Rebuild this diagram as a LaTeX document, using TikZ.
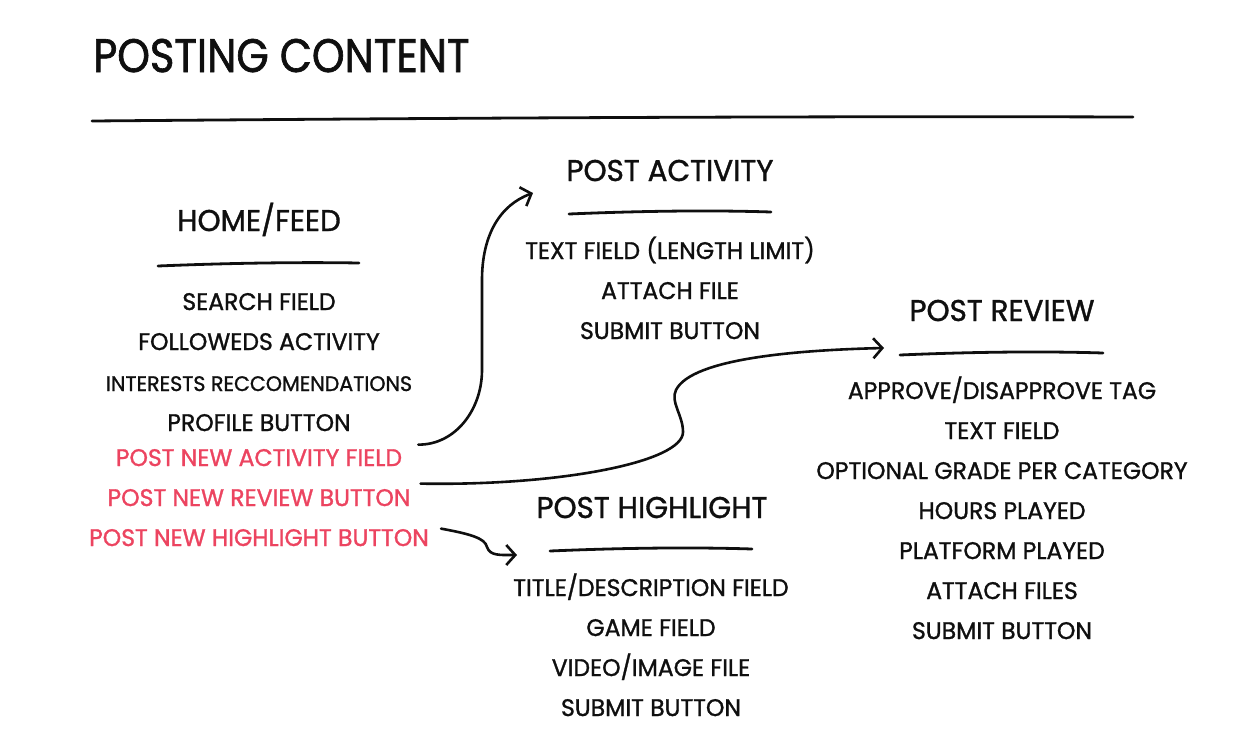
\documentclass[tikz,border=0pt]{standalone}
\usepackage{fontspec}
\usetikzlibrary{arrows.meta}
\newfontfamily\hand[FakeStretch=0.98, FakeBold=1.2]{Poppins}
\newfontfamily\handtitle[FakeStretch=0.885, FakeBold=1.4]{Poppins}
\definecolor{hred}{RGB}{236,68,96}
\definecolor{ink}{RGB}{15,15,15}
\tikzset{
  txt/.style={anchor=base, inner sep=0pt, font=\hand\fontsize{24}{28}\selectfont, text=ink},
  small/.style={txt, font=\hand\fontsize{21}{25}\selectfont},
  hdr/.style={anchor=base, inner sep=0pt, font=\hand\fontsize{30}{34}\selectfont, text=ink},
  redtxt/.style={txt, text=hred},
  rule/.style={draw=ink, line width=2.8pt, line cap=round},
  arr/.style={draw=ink, line width=2.6pt, line cap=round, line join=round,
    -{Straight Barb[length=9pt, width=20pt, line width=2.6pt]}}
}
\begin{document}
\begin{tikzpicture}[x=1pt, y=-1pt]
\useasboundingbox (0,0) rectangle (1237,745);
% title
\node[anchor=base west, inner sep=0pt, font=\handtitle\fontsize{47}{52}\selectfont, text=ink] (title) at (93,72) {POSTING CONTENT};
\draw[rule] (92,121) .. controls (450,118) and (800,116) .. (1133,117);
% home / feed
\node[hdr] (home) at (259,231) {HOME/FEED};
\draw[rule] (158,266) .. controls (230,263) and (300,262) .. (359,263);
\node[txt] (search) at (259,310) {SEARCH FIELD};
\node[txt] (follow) at (259,350) {FOLLOWEDS ACTIVITY};
\node[small] (interests) at (259,391) {INTERESTS RECCOMENDATIONS};
\node[txt] (profile) at (259,431) {PROFILE BUTTON};
\node[redtxt] (pna) at (259,466) {POST NEW ACTIVITY FIELD};
\node[redtxt] (pnr) at (259,506) {POST NEW REVIEW BUTTON};
\node[redtxt] (pnh) at (259,546) {POST NEW HIGHLIGHT BUTTON};
% post activity
\node[hdr] (pact) at (670,181) {POST ACTIVITY};
\draw[rule] (569,214) .. controls (640,211) and (710,210) .. (771,212);
\node[txt] (act1) at (670,259) {TEXT FIELD (LENGTH LIMIT)};
\node[txt] (act2) at (670,299) {ATTACH FILE};
\node[txt] (act3) at (670,339) {SUBMIT BUTTON};
% post review
\node[hdr] (prev) at (1002,321) {POST REVIEW};
\draw[rule] (900,355) .. controls (970,352) and (1040,351) .. (1103,353);
\node[txt] (rev1) at (1002,399) {APPROVE/DISAPPROVE TAG};
\node[txt] (rev2) at (1002,439) {TEXT FIELD};
\node[txt] (rev3) at (1002,479) {OPTIONAL GRADE PER CATEGORY};
\node[txt] (rev4) at (1002,519) {HOURS PLAYED};
\node[txt] (rev5) at (1002,559) {PLATFORM PLAYED};
\node[txt] (rev6) at (1002,599) {ATTACH FILES};
\node[txt] (rev7) at (1002,639) {SUBMIT BUTTON};
% post highlight
\node[hdr] (phl) at (652,518) {POST HIGHLIGHT};
\draw[rule] (550,551) .. controls (620,548) and (690,547) .. (752,549);
\node[txt] (hl1) at (651,596) {TITLE/DESCRIPTION FIELD};
\node[txt] (hl2) at (651,636) {GAME FIELD};
\node[txt] (hl3) at (651,676) {VIDEO/IMAGE FILE};
\node[txt] (hl4) at (651,716) {SUBMIT BUTTON};
% tips
\coordinate (tipA) at (533,193);
\coordinate (tipR) at (884,348);
\coordinate (tipH) at (517,555);
% connectors
\draw[arr] (pna.east) ++(16,-13) .. controls (455,445) and (482,410) .. (482,370)
   -- (482,280) .. controls (482,235) and (500,205) .. (tipA);
\draw[arr] (pnr.east) ++(10,-14) .. controls (560,486) and (683,462) .. (683,432)
   .. controls (683,415) and (670,402) .. (676,390)
   .. controls (692,358) and (800,350) .. (tipR);
\draw[arr] (pnh.east) ++(12,-9) .. controls (470,534) and (485,538) .. (487,547)
   .. controls (490,556) and (500,555) .. (tipH);
\end{tikzpicture}
\end{document}
